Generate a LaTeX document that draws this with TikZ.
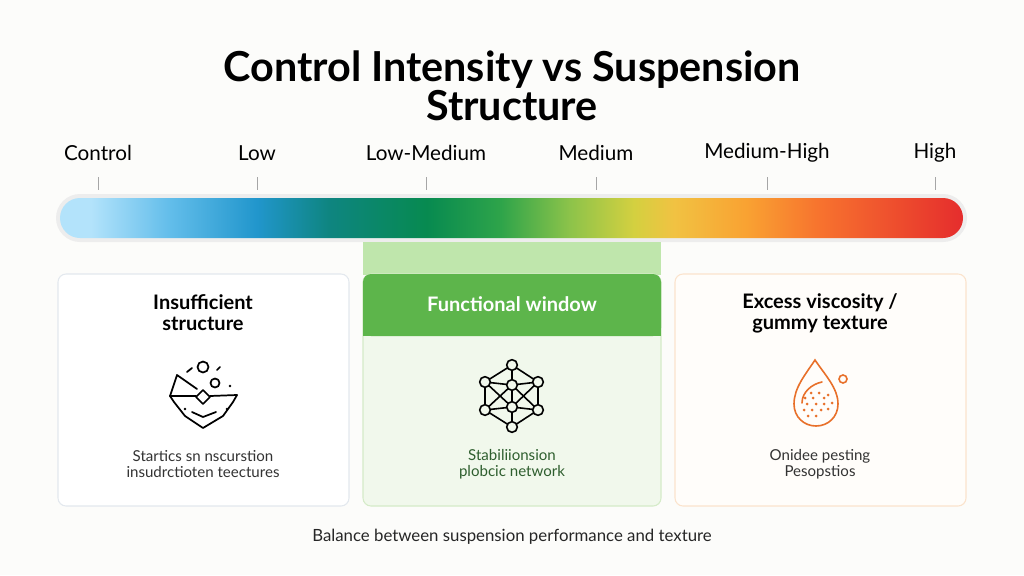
\documentclass[tikz,border=0pt]{standalone}
\usepackage{xcolor}
\usepackage{fontspec}
\setmainfont{Lato}
\usepackage{tikz}
\usetikzlibrary{calc,positioning}

\definecolor{bgcol}{HTML}{FCFCFA}
\definecolor{gA}{HTML}{B3E3FB}
\definecolor{gB}{HTML}{62BDEA}
\definecolor{gC}{HTML}{2196CC}
\definecolor{gD}{HTML}{0E8580}
\definecolor{gE}{HTML}{078A50}
\definecolor{gF}{HTML}{2EA44A}
\definecolor{gG}{HTML}{8CC34A}
\definecolor{gH}{HTML}{D4D040}
\definecolor{gI}{HTML}{F1C242}
\definecolor{gJ}{HTML}{F9A232}
\definecolor{gK}{HTML}{F7722E}
\definecolor{gL}{HTML}{E52D2D}
\definecolor{winhead}{HTML}{5DB54B}
\definecolor{winband}{HTML}{BFE6AC}
\definecolor{winbody}{HTML}{F1F8EC}
\definecolor{winline}{HTML}{D5EBC8}
\definecolor{wintext}{HTML}{2E5E2E}
\definecolor{lowline}{HTML}{E3E8EE}
\definecolor{highline}{HTML}{FBE3CC}
\definecolor{highfill}{HTML}{FFFDFA}
\definecolor{dropcol}{HTML}{E8702A}

\pgfdeclarehorizontalshading{intensity}{100bp}{color(0bp)=(gA); color(25bp)=(gA);
  color(26.7bp)=(gA); color(31.1bp)=(gB); color(35.9bp)=(gC); color(39.9bp)=(gD);
  color(45.3bp)=(gE); color(49.4bp)=(gF); color(53.2bp)=(gG); color(56.8bp)=(gH);
  color(59bp)=(gI); color(63bp)=(gJ); color(67.1bp)=(gK); color(75bp)=(gL);
  color(100bp)=(gL)}

\begin{document}
\begin{tikzpicture}[x=0.75pt,y=-0.75pt,
			every node/.style={inner sep=0pt},
			scalelbl/.style={font=\fontsize{15.5}{17}\selectfont},
			cardtitle/.style={font=\bfseries\fontsize{15}{15.75}\selectfont,align=center},
			caption/.style={font=\fontsize{11.3}{12}\selectfont,align=center,text=black!80},
			card/.style={rounded corners=6pt,line width=0.8pt},
			net/.style={circle,draw,line width=1.2pt,fill=winbody,minimum size=8pt}]
	\fill[bgcol] (0,0) rectangle (1024,575);
	\useasboundingbox (0,0) rectangle (1024,575);

	% title
	\node[font=\bfseries\fontsize{31}{27}\selectfont,align=center] (title) at (512,86)
		{Control Intensity vs Suspension\\Structure};

	% scale labels and ticks
	\foreach \x/\lbl/\name in {98/Control/ctl,257/Low/low,426/Low-Medium/lowmed,
			596/Medium/med,767/Medium-High/medhigh,935/High/high}
	{
		\node[scalelbl] (\name) at (\x,153) {\lbl};
		\draw[gray!70,line width=0.7pt] (\x,177) -- (\x,190);
	}

	% gradient bar
	\fill[black!7,rounded corners=18pt] (56,194) rectangle (967,242);
	\shade[shading=intensity,rounded corners=15pt] (60,198) rectangle (963,238);

	% low card
	\draw[card,lowline,fill=white] (58,274) rectangle (349,506);
	\node[cardtitle] (lowtitle) at (203,313) {Insufficient\\structure};
	\node[caption] (lowcap) at (203,464) {Startics sn nscurstion\\insudrctioten teectures};
	\begin{scope}[line width=1.3pt,line cap=round,line join=round]
		\draw (203,367) circle (5.5);
		\draw (215,383) circle (4.5);
		\draw (196,397) -- (203,390) -- (210,397) -- (203,404) -- cycle;
		\draw (170,396) -- (196,396);
		\draw (210,396) -- (237,395);
		\draw (170,396) -- (177,375) -- (197,389);
		\draw (170,396) -- (174,402) -- (185,416) -- (203,428) -- (223,416) -- (233,402) -- (237,395);
		\draw (192,412) -- (203,417) -- (216,412);
		\draw (187,372) -- (192,368);
		\draw (217,370) -- (220,367);
		\fill (230,386) circle (1.4);
		\fill (185,409) circle (1.4);
		\fill (227,409) circle (1.4);
	\end{scope}

	% functional window
	\fill[winband] (363,242) rectangle (661,275);
	\draw[card,winline,fill=winbody] (363,274) rectangle (661,506);
	\fill[winhead,rounded corners=6pt] (363,336) -- (363,274) -- (661,274) -- (661,336) -- cycle;
	\fill[winhead] (363,320) rectangle (661,336);
	\node[cardtitle,text=white] (wintitle) at (512,304) {Functional window};
	\node[caption,text=wintext] (wincap) at (512,464) {Stabiliionsion\\plobcic network};
	\foreach \x/\y/\name in {512/365/nt,485/382/nul,538/382/nur,512/385/ncu,
			512/407/ncl,485/410/nll,538/410/nlr,512/427/nb}
		\coordinate (\name) at (\x,\y);
	\foreach \a/\b in {nt/nul,nt/nur,nt/ncu,nul/ncu,nur/ncu,nul/nll,nur/nlr,ncu/ncl,
			nul/ncl,nur/ncl,ncu/nll,ncu/nlr,nll/ncl,nlr/ncl,nll/nb,nlr/nb,ncl/nb}
		\draw[line width=1.2pt] (\a) -- (\b);
	\foreach \name in {nt,nul,nur,ncu,ncl,nll,nlr,nb}
		\node[net] at (\name) {};

	% high card
	\draw[card,highline,fill=highfill] (675,274) rectangle (966,506);
	\node[cardtitle] (hightitle) at (820,313) {Excess viscosity /\\gummy texture};
	\node[caption] (highcap) at (820,464) {Onidee pesting\\Pesopstios};
	\begin{scope}[dropcol,line width=1.2pt,line cap=round]
		\draw (815,360) .. controls (805,375) and (794,388) .. (794,404)
			.. controls (794,417) and (804,426) .. (816,426)
			.. controls (828,426) and (838,417) .. (838,404)
			.. controls (838,388) and (825,375) .. (815,360) -- cycle;
		\draw (802,403) .. controls (802,392) and (812,384) .. (822,382);
		\draw (843,379) circle (4);
		\foreach \x/\y in {811/393,819/393,828/395,805/398,813/398,824/398,807/404,816/404,
				824/404,832/403,804/410,812/410,821/410,828/409,808/416,816/416}
			\fill (\x,\y) circle (1.5);
	\end{scope}

	% footer
	\node[font=\fontsize{12.6}{14}\selectfont,text=black!85] (footer) at (512,537)
		{Balance between suspension performance and texture};
\end{tikzpicture}
\end{document}
